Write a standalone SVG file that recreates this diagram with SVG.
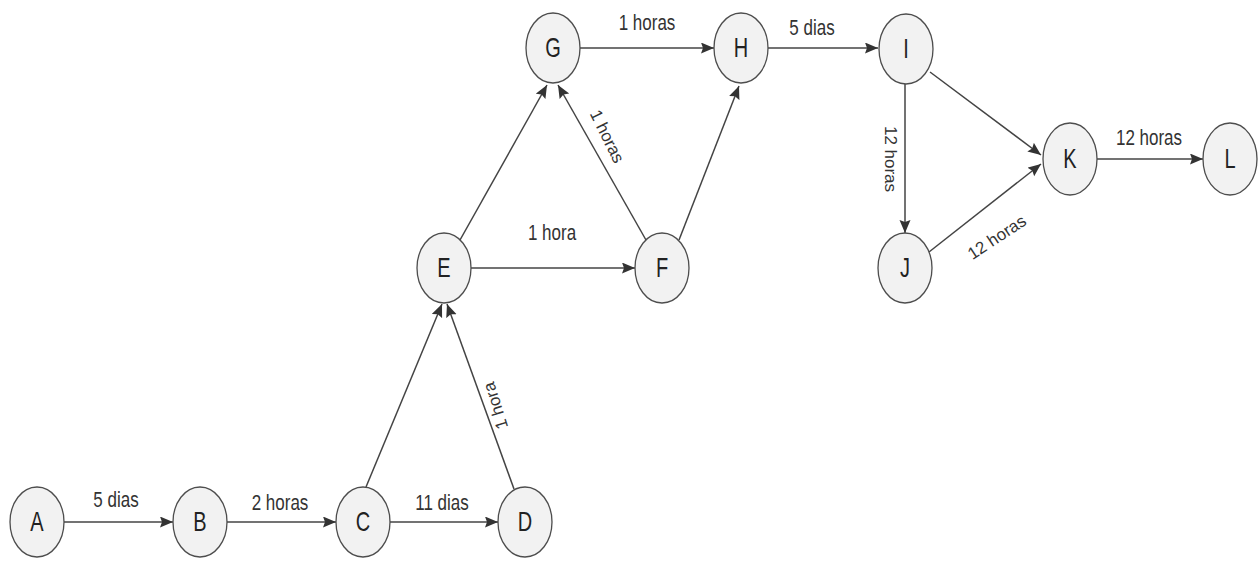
<svg xmlns="http://www.w3.org/2000/svg" width="1260" height="562" viewBox="0 0 1260 562">
<style>
.node ellipse{fill:#f2f2f2;stroke:#4d4d4d;stroke-width:1.3}
.node text{font-family:"Liberation Sans",Arial,sans-serif;font-size:20px;fill:#222;text-anchor:middle}
.edges line{stroke:#444;stroke-width:1.5;marker-end:url(#arr)}
.lbl{font-family:"Liberation Sans",Arial,sans-serif;font-size:17px;fill:#333;text-anchor:middle}
</style>
<defs>
<marker id="arr" markerUnits="userSpaceOnUse" markerWidth="14" markerHeight="12" refX="13" refY="5.5" orient="auto">
<path d="M0,0 L13,5.5 L0,11 L2,5.5 z" fill="#333"/>
</marker>
</defs>
<rect width="1260" height="562" fill="#fff"/>
<g id="edges" class="edges">
<line x1="64" y1="522" x2="173" y2="522"/>
<line x1="227" y1="522" x2="336" y2="522"/>
<line x1="390" y1="522" x2="498" y2="522"/>
<line x1="366" y1="487" x2="442" y2="304"/>
<line x1="514" y1="489" x2="447" y2="304"/>
<line x1="471" y1="268" x2="635" y2="268"/>
<line x1="460" y1="240" x2="547" y2="85"/>
<line x1="646" y1="240" x2="558" y2="85"/>
<line x1="679" y1="240" x2="739" y2="86"/>
<line x1="579" y1="48" x2="714" y2="48"/>
<line x1="767" y1="48" x2="878" y2="48"/>
<line x1="905" y1="84" x2="905" y2="233"/>
<line x1="930" y1="72" x2="1041" y2="155"/>
<line x1="929" y1="252" x2="1041" y2="164"/>
<line x1="1097" y1="159" x2="1203" y2="159"/>
</g>
<g id="labels">
<text class="lbl" transform="translate(116,507) scale(1,1.25)">5 dias</text>
<text class="lbl" transform="translate(280,510) scale(1,1.25)">2 horas</text>
<text class="lbl" transform="translate(442,510) scale(1,1.25)">11 dias</text>
<text class="lbl" transform="translate(552,240) scale(1,1.25)">1 hora</text>
<text class="lbl" transform="translate(647,30) scale(1,1.25)">1 horas</text>
<text class="lbl" transform="translate(812,35) scale(1,1.25)">5 dias</text>
<text class="lbl" transform="translate(1149,145) scale(1,1.25)">12 horas</text>
<text class="lbl" transform="translate(885,159) rotate(90)">12 horas</text>
<text class="lbl" transform="translate(602,139) rotate(63.6)">1 horas</text>
<text class="lbl" transform="translate(501,404) rotate(-107.7)">1 hora</text>
<text class="lbl" transform="translate(1000,242) rotate(-33.5)">12 horas</text>
</g>
<g id="A" class="node"><ellipse cx="37" cy="522" rx="27" ry="35"/><text transform="translate(37,522) scale(1,1.35)" y="7">A</text></g>
<g id="B" class="node"><ellipse cx="200" cy="522" rx="27" ry="35"/><text transform="translate(200,522) scale(1,1.35)" y="7">B</text></g>
<g id="C" class="node"><ellipse cx="363" cy="522" rx="27" ry="35"/><text transform="translate(363,522) scale(1,1.35)" y="7">C</text></g>
<g id="D" class="node"><ellipse cx="525" cy="522" rx="27" ry="35"/><text transform="translate(525,522) scale(1,1.35)" y="7">D</text></g>
<g id="E" class="node"><ellipse cx="444" cy="268" rx="27" ry="35"/><text transform="translate(444,268) scale(1,1.35)" y="7">E</text></g>
<g id="F" class="node"><ellipse cx="662" cy="268" rx="27" ry="35"/><text transform="translate(662,268) scale(1,1.35)" y="7">F</text></g>
<g id="G" class="node"><ellipse cx="553" cy="48" rx="27" ry="35"/><text transform="translate(553,48) scale(1,1.35)" y="7">G</text></g>
<g id="H" class="node"><ellipse cx="741" cy="48" rx="27" ry="35"/><text transform="translate(741,48) scale(1,1.35)" y="7">H</text></g>
<g id="I" class="node"><ellipse cx="906" cy="49" rx="27" ry="35"/><text transform="translate(906,49) scale(1,1.35)" y="7">I</text></g>
<g id="J" class="node"><ellipse cx="905" cy="268" rx="27" ry="35"/><text transform="translate(905,268) scale(1,1.35)" y="7">J</text></g>
<g id="K" class="node"><ellipse cx="1070" cy="159" rx="27" ry="36"/><text transform="translate(1070,159) scale(1,1.35)" y="7">K</text></g>
<g id="L" class="node"><ellipse cx="1230" cy="159" rx="27" ry="36"/><text transform="translate(1230,159) scale(1,1.35)" y="7">L</text></g>
</svg>
